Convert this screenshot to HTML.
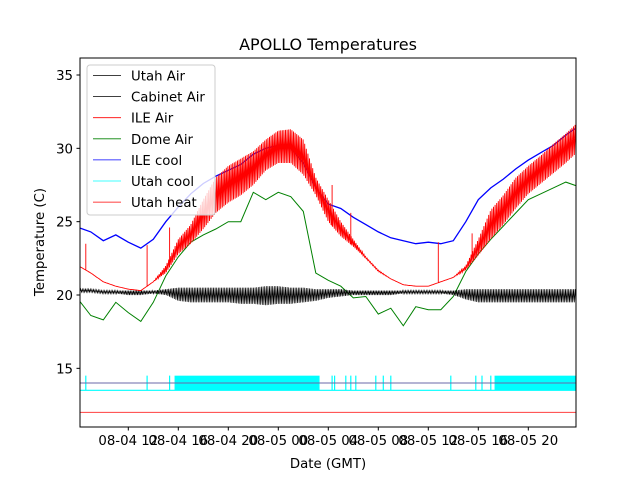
<!DOCTYPE html>
<html><head><meta charset="utf-8"><style>
body{margin:0;background:#fff}
svg{display:block;font-family:"DejaVu Sans","Liberation Sans",sans-serif}
</style></head><body>
<svg id="chart" width="640" height="480" viewBox="0 0 640 480">
<defs><clipPath id="plotclip"><rect x="80" y="58" width="496" height="369"/></clipPath></defs>
<rect width="640" height="480" fill="#fff"/>
<text x="328" y="50" text-anchor="middle" font-size="16">APOLLO Temperatures</text>
<g id="series" clip-path="url(#plotclip)"></g>
<rect x="80" y="58" width="496" height="369" fill="none" stroke="#000" stroke-width="1"/>
<g id="xaxis"></g>
<g id="yaxis"></g>
<text x="328" y="468" text-anchor="middle" font-size="13.3">Date (GMT)</text>
<text transform="translate(44,242) rotate(-90)" text-anchor="middle" font-size="13.3">Temperature (C)</text>
<g id="legend"></g>
</svg>
<script>
const hours = [8,9,10,11,12,13,14,15,16,17,18,19,20,21,22,23,24,25,26,27,28,29,30,31,32,33,34,35,36,37,38,39,40,41,42,43,44,45,46,47,48];
const ileCool = [24.6,24.3,23.7,24.1,23.6,23.2,23.8,25.0,26.0,26.9,27.6,28.1,28.5,28.9,29.6,30.0,30.2,30.0,29.0,27.3,26.2,25.9,25.3,24.8,24.3,23.9,23.7,23.5,23.6,23.5,23.7,25.0,26.5,27.3,27.9,28.6,29.2,29.7,30.2,30.9,31.5];
const ileAirLo = [22.0,21.5,20.9,20.6,20.4,20.3,20.9,21.5,22.8,23.5,24.5,25.6,26.3,26.8,27.5,28.5,29.0,29.0,28.2,26.8,25.0,24.0,23.3,22.5,21.6,21.1,20.7,20.6,20.6,20.9,21.2,21.7,22.7,23.8,24.8,25.9,26.9,27.6,28.3,29.0,29.8];
const ileAirHi = [22.0,21.5,20.9,20.6,20.4,20.3,20.9,22.0,23.8,24.8,26.5,28.0,28.8,29.3,29.8,30.6,31.2,31.3,30.6,28.0,26.5,25.0,23.8,22.6,21.7,21.1,20.7,20.6,20.6,20.9,21.2,22.0,23.8,25.8,26.8,28.0,28.8,29.5,30.3,31.0,31.8];
const ileSpikeHours = [8.6,13.5,15.3,28.3,29.8,36.8,39.5];
const ileSpikeVals = [23.5,23.4,24.6,27.5,25.6,23.6,24.2];
const domeAir = [19.7,18.6,18.3,19.5,18.8,18.2,19.5,21.3,22.6,23.6,24.1,24.5,25.0,25.0,27.0,26.5,27.0,26.7,25.7,21.5,21.0,20.6,19.8,19.9,18.7,19.1,17.9,19.2,19.0,19.0,19.9,21.6,22.8,23.8,24.7,25.6,26.5,26.9,27.3,27.7,27.4];
const utahAirHi = [20.4,20.4,20.3,20.3,20.3,20.3,20.3,20.4,20.5,20.5,20.5,20.5,20.5,20.5,20.5,20.6,20.6,20.5,20.5,20.4,20.4,20.4,20.3,20.3,20.3,20.3,20.3,20.3,20.3,20.3,20.3,20.4,20.4,20.4,20.4,20.4,20.4,20.4,20.4,20.4,20.4];
const utahAirLo = [20.2,20.2,20.1,20.1,20.0,20.0,20.1,20.0,19.6,19.5,19.5,19.5,19.5,19.4,19.4,19.3,19.4,19.4,19.5,19.6,19.8,19.9,20.0,20.0,20.0,20.0,20.1,20.1,20.1,20.1,20.0,19.7,19.5,19.5,19.5,19.5,19.5,19.5,19.5,19.5,19.5];
const utahCoolBase = 13.5, utahCoolOn = 14.5;
const coolSpikeHours = [8.6,13.5,15.3,28.3,28.5,29.4,29.8,30.2,31.8,32.4,33.0,37.8,39.8,40.3,41.0];
const coolDenseStart = [15.7,41.3];
const coolDenseEnd = [27.3,48];
const cabinetAir = 14.0;
const utahHeat = 12.0;
const yTicks = [15,20,25,30,35];
const xTickHours = [12,16,20,24,28,32,36,40,44];
const xTickLabels = ["08-04 12","08-04 16","08-04 20","08-05 00","08-05 04","08-05 08","08-05 12","08-05 16","08-05 20"];
const legendNames = ["Utah Air","Cabinet Air","ILE Air","Dome Air","ILE cool","Utah cool","Utah heat"];
const legendColors = ["#000","#000","#ff0000","#008000","#0000ff","#00ffff","#ff0000"];

const NS="http://www.w3.org/2000/svg";
const X = h => 128.3 + (h-12)*12.5;
const Y = v => 295 - (v-20)*14.667;
function interp(arr,h){ if(h<=hours[0])return arr[0]; if(h>=hours[hours.length-1])return arr[arr.length-1];
  const i=Math.floor(h-hours[0]); const f=h-hours[i]; return arr[i]+(arr[i+1]-arr[i])*f; }
const g=document.getElementById('series');
function path(d,color,w){const p=document.createElementNS(NS,'path');p.setAttribute('d',d);p.setAttribute('fill','none');p.setAttribute('stroke',color);p.setAttribute('stroke-width',w);g.appendChild(p);return p;}
function zig(lo,hi,step){let d='';let k=0;for(let x=X(hours[0]);x<=X(48);x+=step,k++){const h=12+(x-128.3)/12.5;const v=(k%2)?interp(hi,h):interp(lo,h);d+=(d?'L':'M')+x.toFixed(1)+','+Y(v).toFixed(1);}return d;}
function line(arr){return arr.map((v,i)=>(i?'L':'M')+X(hours[i]).toFixed(1)+','+Y(v).toFixed(1)).join('');}

let cd='M'+X(8)+','+Y(utahCoolBase)+'L'+X(48)+','+Y(utahCoolBase);
coolSpikeHours.forEach(h=>{cd+='M'+X(h).toFixed(1)+','+Y(utahCoolBase)+'V'+Y(utahCoolOn);});
let p=path(cd,'#00ffff',1.2);


coolDenseStart.forEach((s,i)=>{const r=document.createElementNS(NS,'rect');r.setAttribute('x',X(s));r.setAttribute('y',Y(utahCoolOn));r.setAttribute('width',X(coolDenseEnd[i])-X(s));r.setAttribute('height',Y(utahCoolBase)-Y(utahCoolOn));r.setAttribute('fill','#00ffff');


g.appendChild(r);});
p=path('M80,'+Y(cabinetAir)+'H576','#6a6aa8',1);


p=path('M80,'+Y(utahHeat)+'H576','#ff4040',1);


p=path(line(domeAir),'#008000',1);


p=path(zig(utahAirLo,utahAirHi,0.8),'#000',0.7);


p=path(line(ileCool),'#0000ff',1.3);


let rd=zig(ileAirLo,ileAirHi,0.8);
ileSpikeHours.forEach((h,i)=>{rd+='M'+X(h).toFixed(1)+','+Y(interp(ileAirLo,h)).toFixed(1)+'V'+Y(ileSpikeVals[i]).toFixed(1);});
p=path(rd,'#ff0000',0.9);



const xa=document.getElementById('xaxis');
xTickHours.forEach((h,i)=>{const x=X(h);
 const t=document.createElementNS(NS,'line');t.setAttribute('x1',x);t.setAttribute('x2',x);t.setAttribute('y1',427);t.setAttribute('y2',430.5);t.setAttribute('stroke','#000');
 
 
 xa.appendChild(t);
 const tx=document.createElementNS(NS,'text');tx.setAttribute('x',x);tx.setAttribute('y',445);tx.setAttribute('text-anchor','middle');tx.setAttribute('font-size','13.3');tx.textContent=xTickLabels[i];
 
 
 xa.appendChild(tx);});
const ya=document.getElementById('yaxis');
yTicks.forEach(v=>{const y=Y(v);
 const t=document.createElementNS(NS,'line');t.setAttribute('x1',76.5);t.setAttribute('x2',80);t.setAttribute('y1',y);t.setAttribute('y2',y);t.setAttribute('stroke','#000');
 
 
 ya.appendChild(t);
 const tx=document.createElementNS(NS,'text');tx.setAttribute('x',73);tx.setAttribute('y',y+5);tx.setAttribute('text-anchor','end');tx.setAttribute('font-size','13.3');tx.textContent=v;
 
 
 ya.appendChild(tx);});

const lg=document.getElementById('legend');
const bx=document.createElementNS(NS,'rect');bx.setAttribute('x',87);bx.setAttribute('y',65);bx.setAttribute('width',128);bx.setAttribute('height',150);bx.setAttribute('rx',3);bx.setAttribute('fill','rgba(255,255,255,0.8)');bx.setAttribute('stroke','#ccc');


lg.appendChild(bx);
legendNames.forEach((n,i)=>{const y=75.5+i*21.1;
 const l=document.createElementNS(NS,'line');l.setAttribute('x1',93);l.setAttribute('x2',121);l.setAttribute('y1',y);l.setAttribute('y2',y);l.setAttribute('stroke',legendColors[i]);l.setAttribute('stroke-width',0.8);
 
 
 lg.appendChild(l);
 const t=document.createElementNS(NS,'text');t.setAttribute('x',131);t.setAttribute('y',y+5);t.setAttribute('font-size','13.3');t.textContent=n;
 
 
 lg.appendChild(t);});
</script>
</body></html>
